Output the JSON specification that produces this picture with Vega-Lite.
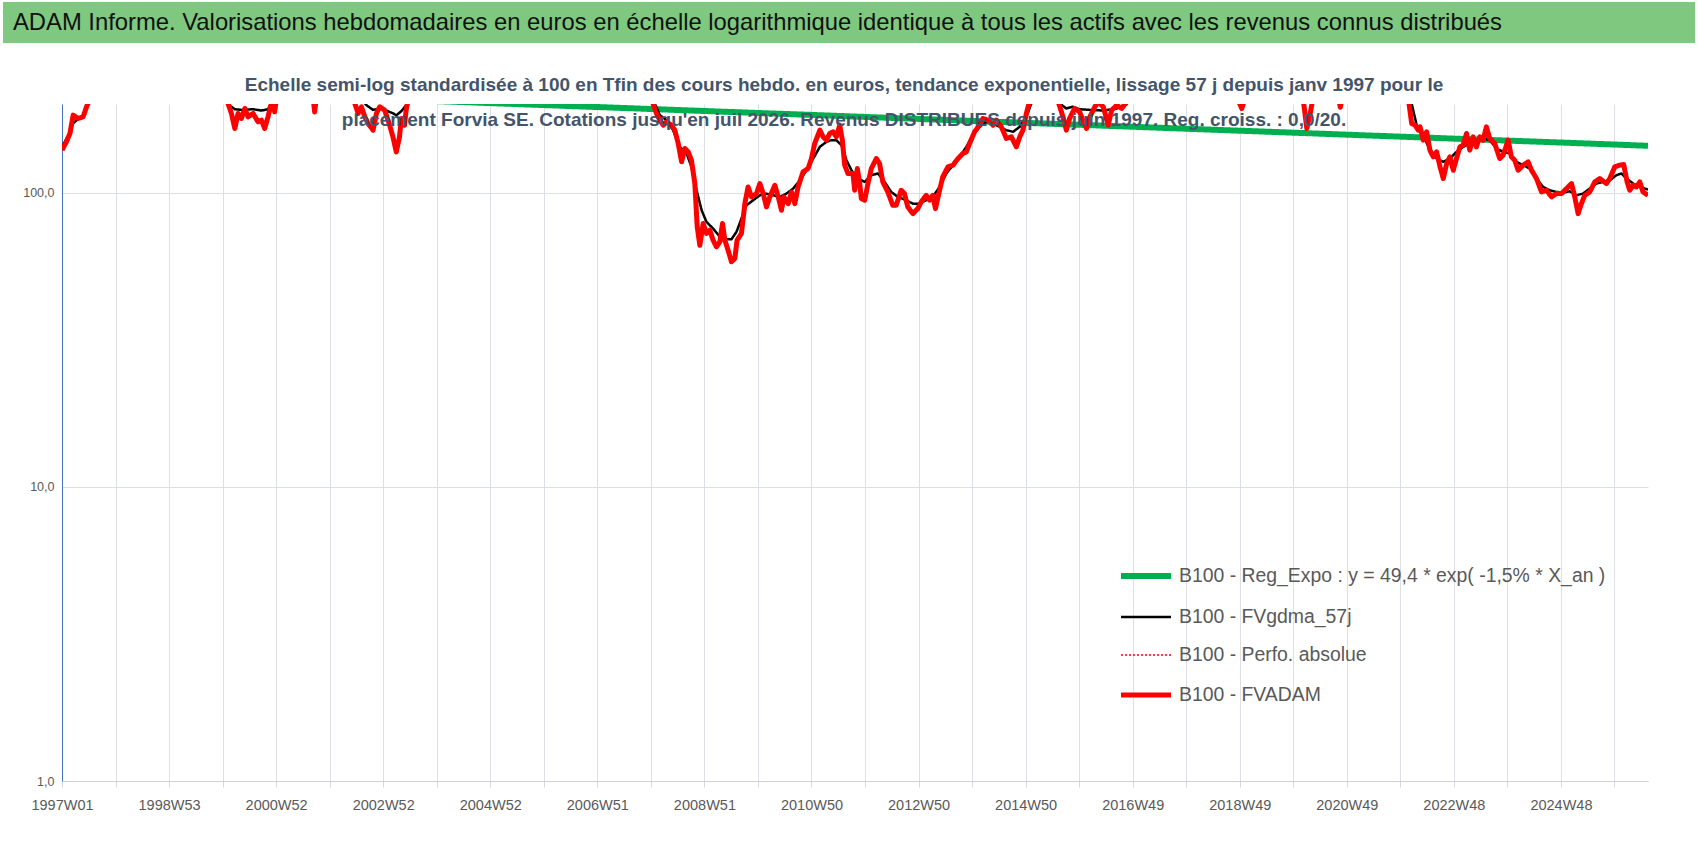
{
  "$schema": "https://vega.github.io/schema/vega-lite/v6.json",
  "background": "white",
  "padding": {"left": 3, "top": 2, "right": 4, "bottom": 4},
  "config": {
    "view": {"stroke": null},
    "font": "Liberation Sans"
  },
  "datasets": {
    "titlebar": [{"t": "ADAM Informe. Valorisations hebdomadaires en euros en échelle logarithmique identique à tous les actifs avec les revenus connus distribués"}],
    "lines": [
      {"s": "Reg_Expo", "d": "1996-12-30", "v": 227.9},
      {"s": "Reg_Expo", "d": "1998-01-01", "v": 224.4},
      {"s": "Reg_Expo", "d": "1999-01-01", "v": 220.9},
      {"s": "Reg_Expo", "d": "2000-01-01", "v": 217.5},
      {"s": "Reg_Expo", "d": "2001-01-01", "v": 214.2},
      {"s": "Reg_Expo", "d": "2002-01-01", "v": 210.9},
      {"s": "Reg_Expo", "d": "2003-01-01", "v": 207.7},
      {"s": "Reg_Expo", "d": "2004-01-01", "v": 204.5},
      {"s": "Reg_Expo", "d": "2005-01-01", "v": 201.3},
      {"s": "Reg_Expo", "d": "2006-01-01", "v": 198.2},
      {"s": "Reg_Expo", "d": "2007-01-01", "v": 195.2},
      {"s": "Reg_Expo", "d": "2008-01-01", "v": 192.2},
      {"s": "Reg_Expo", "d": "2009-01-01", "v": 189.2},
      {"s": "Reg_Expo", "d": "2010-01-01", "v": 186.3},
      {"s": "Reg_Expo", "d": "2011-01-01", "v": 183.5},
      {"s": "Reg_Expo", "d": "2012-01-01", "v": 180.6},
      {"s": "Reg_Expo", "d": "2013-01-01", "v": 177.8},
      {"s": "Reg_Expo", "d": "2014-01-01", "v": 175.1},
      {"s": "Reg_Expo", "d": "2015-01-01", "v": 172.4},
      {"s": "Reg_Expo", "d": "2016-01-01", "v": 169.8},
      {"s": "Reg_Expo", "d": "2017-01-01", "v": 167.2},
      {"s": "Reg_Expo", "d": "2018-01-01", "v": 164.6},
      {"s": "Reg_Expo", "d": "2019-01-01", "v": 162.1},
      {"s": "Reg_Expo", "d": "2020-01-01", "v": 159.6},
      {"s": "Reg_Expo", "d": "2021-01-01", "v": 157.1},
      {"s": "Reg_Expo", "d": "2022-01-01", "v": 154.7},
      {"s": "Reg_Expo", "d": "2023-01-01", "v": 152.3},
      {"s": "Reg_Expo", "d": "2024-01-01", "v": 150.0},
      {"s": "Reg_Expo", "d": "2025-01-01", "v": 147.7},
      {"s": "Reg_Expo", "d": "2026-01-01", "v": 145.4},
      {"s": "Reg_Expo", "d": "2026-07-10", "v": 144.2},

      {"s": "FVgdma_57j", "d": "1996-12-30", "v": 143},
      {"s": "FVgdma_57j", "d": "1997-02-22", "v": 160},
      {"s": "FVgdma_57j", "d": "1997-03-16", "v": 172},
      {"s": "FVgdma_57j", "d": "1997-04-19", "v": 178},
      {"s": "FVgdma_57j", "d": "1997-05-23", "v": 183},
      {"s": "FVgdma_57j", "d": "1997-06-15", "v": 194},
      {"s": "FVgdma_57j", "d": "1997-07-08", "v": 205},
      {"s": "FVgdma_57j", "d": "1997-10-01", "v": 240},
      {"s": "FVgdma_57j", "d": "1998-06-01", "v": 290},
      {"s": "FVgdma_57j", "d": "1999-03-01", "v": 290},
      {"s": "FVgdma_57j", "d": "1999-10-01", "v": 250},
      {"s": "FVgdma_57j", "d": "2000-01-15", "v": 210},
      {"s": "FVgdma_57j", "d": "2000-02-10", "v": 198},
      {"s": "FVgdma_57j", "d": "2000-03-19", "v": 192},
      {"s": "FVgdma_57j", "d": "2000-05-03", "v": 191},
      {"s": "FVgdma_57j", "d": "2000-07-21", "v": 192},
      {"s": "FVgdma_57j", "d": "2000-09-16", "v": 190},
      {"s": "FVgdma_57j", "d": "2000-10-31", "v": 192},
      {"s": "FVgdma_57j", "d": "2000-11-20", "v": 200},
      {"s": "FVgdma_57j", "d": "2000-12-15", "v": 210},
      {"s": "FVgdma_57j", "d": "2001-03-01", "v": 230},
      {"s": "FVgdma_57j", "d": "2001-09-01", "v": 225},
      {"s": "FVgdma_57j", "d": "2002-03-01", "v": 230},
      {"s": "FVgdma_57j", "d": "2002-07-15", "v": 210},
      {"s": "FVgdma_57j", "d": "2002-09-01", "v": 198},
      {"s": "FVgdma_57j", "d": "2002-10-15", "v": 191},
      {"s": "FVgdma_57j", "d": "2002-11-29", "v": 193},
      {"s": "FVgdma_57j", "d": "2003-01-02", "v": 191},
      {"s": "FVgdma_57j", "d": "2003-02-27", "v": 186},
      {"s": "FVgdma_57j", "d": "2003-03-22", "v": 183},
      {"s": "FVgdma_57j", "d": "2003-04-25", "v": 189},
      {"s": "FVgdma_57j", "d": "2003-05-28", "v": 198},
      {"s": "FVgdma_57j", "d": "2003-06-20", "v": 208},
      {"s": "FVgdma_57j", "d": "2003-10-01", "v": 240},
      {"s": "FVgdma_57j", "d": "2004-06-01", "v": 290},
      {"s": "FVgdma_57j", "d": "2005-06-01", "v": 320},
      {"s": "FVgdma_57j", "d": "2006-06-01", "v": 315},
      {"s": "FVgdma_57j", "d": "2007-06-01", "v": 275},
      {"s": "FVgdma_57j", "d": "2007-12-09", "v": 212},
      {"s": "FVgdma_57j", "d": "2008-01-12", "v": 200.8},
      {"s": "FVgdma_57j", "d": "2008-02-16", "v": 183.3},
      {"s": "FVgdma_57j", "d": "2008-04-01", "v": 176.3},
      {"s": "FVgdma_57j", "d": "2008-05-16", "v": 163.0},
      {"s": "FVgdma_57j", "d": "2008-07-01", "v": 143.0},
      {"s": "FVgdma_57j", "d": "2008-08-16", "v": 135.8},
      {"s": "FVgdma_57j", "d": "2008-09-18", "v": 122.3},
      {"s": "FVgdma_57j", "d": "2008-10-23", "v": 101.8},
      {"s": "FVgdma_57j", "d": "2008-11-26", "v": 87.1},
      {"s": "FVgdma_57j", "d": "2008-12-29", "v": 79.5},
      {"s": "FVgdma_57j", "d": "2009-02-12", "v": 75.5},
      {"s": "FVgdma_57j", "d": "2009-03-30", "v": 70.7},
      {"s": "FVgdma_57j", "d": "2009-05-03", "v": 69.4},
      {"s": "FVgdma_57j", "d": "2009-06-17", "v": 69.4},
      {"s": "FVgdma_57j", "d": "2009-07-21", "v": 73.5},
      {"s": "FVgdma_57j", "d": "2009-08-24", "v": 81.6},
      {"s": "FVgdma_57j", "d": "2009-09-27", "v": 90.5},
      {"s": "FVgdma_57j", "d": "2009-11-12", "v": 94.2},
      {"s": "FVgdma_57j", "d": "2009-12-27", "v": 97.9},
      {"s": "FVgdma_57j", "d": "2010-02-10", "v": 99.2},
      {"s": "FVgdma_57j", "d": "2010-03-27", "v": 97.9},
      {"s": "FVgdma_57j", "d": "2010-05-12", "v": 96.7},
      {"s": "FVgdma_57j", "d": "2010-06-26", "v": 99.2},
      {"s": "FVgdma_57j", "d": "2010-08-11", "v": 103.2},
      {"s": "FVgdma_57j", "d": "2010-09-25", "v": 110.1},
      {"s": "FVgdma_57j", "d": "2010-11-09", "v": 119.1},
      {"s": "FVgdma_57j", "d": "2010-12-25", "v": 130.5},
      {"s": "FVgdma_57j", "d": "2011-02-08", "v": 143.0},
      {"s": "FVgdma_57j", "d": "2011-03-25", "v": 148.8},
      {"s": "FVgdma_57j", "d": "2011-04-28", "v": 150.7},
      {"s": "FVgdma_57j", "d": "2011-05-31", "v": 150.7},
      {"s": "FVgdma_57j", "d": "2011-07-05", "v": 144.9},
      {"s": "FVgdma_57j", "d": "2011-08-08", "v": 128.8},
      {"s": "FVgdma_57j", "d": "2011-09-11", "v": 119.1},
      {"s": "FVgdma_57j", "d": "2011-10-26", "v": 111.6},
      {"s": "FVgdma_57j", "d": "2011-12-10", "v": 108.7},
      {"s": "FVgdma_57j", "d": "2012-01-24", "v": 114.5},
      {"s": "FVgdma_57j", "d": "2012-03-09", "v": 116.1},
      {"s": "FVgdma_57j", "d": "2012-04-23", "v": 108.7},
      {"s": "FVgdma_57j", "d": "2012-06-07", "v": 100.5},
      {"s": "FVgdma_57j", "d": "2012-07-22", "v": 96.7},
      {"s": "FVgdma_57j", "d": "2012-09-17", "v": 94.2},
      {"s": "FVgdma_57j", "d": "2012-11-01", "v": 91.7},
      {"s": "FVgdma_57j", "d": "2012-12-16", "v": 91.7},
      {"s": "FVgdma_57j", "d": "2013-01-31", "v": 94.2},
      {"s": "FVgdma_57j", "d": "2013-03-17", "v": 96.7},
      {"s": "FVgdma_57j", "d": "2013-05-02", "v": 104.5},
      {"s": "FVgdma_57j", "d": "2013-06-17", "v": 116.1},
      {"s": "FVgdma_57j", "d": "2013-08-01", "v": 123.9},
      {"s": "FVgdma_57j", "d": "2013-09-16", "v": 132.3},
      {"s": "FVgdma_57j", "d": "2013-10-31", "v": 143.0},
      {"s": "FVgdma_57j", "d": "2013-12-15", "v": 156.7},
      {"s": "FVgdma_57j", "d": "2014-01-29", "v": 167.3},
      {"s": "FVgdma_57j", "d": "2014-03-15", "v": 174.0},
      {"s": "FVgdma_57j", "d": "2014-04-30", "v": 171.7},
      {"s": "FVgdma_57j", "d": "2014-06-14", "v": 167.3},
      {"s": "FVgdma_57j", "d": "2014-07-30", "v": 163.0},
      {"s": "FVgdma_57j", "d": "2014-09-14", "v": 160.9},
      {"s": "FVgdma_57j", "d": "2014-10-29", "v": 167.3},
      {"s": "FVgdma_57j", "d": "2014-12-13", "v": 180.9},
      {"s": "FVgdma_57j", "d": "2015-01-16", "v": 200.8},
      {"s": "FVgdma_57j", "d": "2015-03-15", "v": 215},
      {"s": "FVgdma_57j", "d": "2015-06-01", "v": 212},
      {"s": "FVgdma_57j", "d": "2015-07-28", "v": 200.8},
      {"s": "FVgdma_57j", "d": "2015-09-11", "v": 193.1},
      {"s": "FVgdma_57j", "d": "2015-10-26", "v": 195.7},
      {"s": "FVgdma_57j", "d": "2015-12-10", "v": 192},
      {"s": "FVgdma_57j", "d": "2016-02-18", "v": 191},
      {"s": "FVgdma_57j", "d": "2016-05-19", "v": 190},
      {"s": "FVgdma_57j", "d": "2016-08-18", "v": 193},
      {"s": "FVgdma_57j", "d": "2016-10-25", "v": 200},
      {"s": "FVgdma_57j", "d": "2016-12-15", "v": 212},
      {"s": "FVgdma_57j", "d": "2017-06-01", "v": 240},
      {"s": "FVgdma_57j", "d": "2018-06-01", "v": 240},
      {"s": "FVgdma_57j", "d": "2019-06-01", "v": 235},
      {"s": "FVgdma_57j", "d": "2020-06-01", "v": 235},
      {"s": "FVgdma_57j", "d": "2021-06-01", "v": 255},
      {"s": "FVgdma_57j", "d": "2021-12-01", "v": 225},
      {"s": "FVgdma_57j", "d": "2022-01-20", "v": 212},
      {"s": "FVgdma_57j", "d": "2022-02-14", "v": 200.8},
      {"s": "FVgdma_57j", "d": "2022-03-20", "v": 169.5},
      {"s": "FVgdma_57j", "d": "2022-05-04", "v": 156.7},
      {"s": "FVgdma_57j", "d": "2022-06-18", "v": 139.4},
      {"s": "FVgdma_57j", "d": "2022-08-03", "v": 130.5},
      {"s": "FVgdma_57j", "d": "2022-09-17", "v": 127.2},
      {"s": "FVgdma_57j", "d": "2022-11-01", "v": 130.5},
      {"s": "FVgdma_57j", "d": "2022-12-16", "v": 137.5},
      {"s": "FVgdma_57j", "d": "2023-01-30", "v": 143.0},
      {"s": "FVgdma_57j", "d": "2023-03-16", "v": 146.8},
      {"s": "FVgdma_57j", "d": "2023-04-30", "v": 148.8},
      {"s": "FVgdma_57j", "d": "2023-06-15", "v": 152.7},
      {"s": "FVgdma_57j", "d": "2023-07-30", "v": 150.7},
      {"s": "FVgdma_57j", "d": "2023-09-14", "v": 141.2},
      {"s": "FVgdma_57j", "d": "2023-10-29", "v": 137.5},
      {"s": "FVgdma_57j", "d": "2023-12-13", "v": 135.8},
      {"s": "FVgdma_57j", "d": "2024-01-27", "v": 127.2},
      {"s": "FVgdma_57j", "d": "2024-03-13", "v": 123.9},
      {"s": "FVgdma_57j", "d": "2024-04-27", "v": 120.7},
      {"s": "FVgdma_57j", "d": "2024-06-12", "v": 111.6},
      {"s": "FVgdma_57j", "d": "2024-07-27", "v": 104.5},
      {"s": "FVgdma_57j", "d": "2024-09-10", "v": 101.8},
      {"s": "FVgdma_57j", "d": "2024-10-26", "v": 100.5},
      {"s": "FVgdma_57j", "d": "2024-12-10", "v": 100.0},
      {"s": "FVgdma_57j", "d": "2025-01-24", "v": 101.0},
      {"s": "FVgdma_57j", "d": "2025-03-10", "v": 97.9},
      {"s": "FVgdma_57j", "d": "2025-04-24", "v": 99.2},
      {"s": "FVgdma_57j", "d": "2025-06-09", "v": 103.2},
      {"s": "FVgdma_57j", "d": "2025-07-24", "v": 107.3},
      {"s": "FVgdma_57j", "d": "2025-09-08", "v": 108.7},
      {"s": "FVgdma_57j", "d": "2025-10-23", "v": 110.1},
      {"s": "FVgdma_57j", "d": "2025-12-07", "v": 114.5},
      {"s": "FVgdma_57j", "d": "2026-01-10", "v": 116.1},
      {"s": "FVgdma_57j", "d": "2026-02-14", "v": 111.6},
      {"s": "FVgdma_57j", "d": "2026-03-31", "v": 107.3},
      {"s": "FVgdma_57j", "d": "2026-05-15", "v": 104.5},
      {"s": "FVgdma_57j", "d": "2026-07-10", "v": 102.3},

      {"s": "FVADAM", "d": "1996-12-30", "v": 139.4},
      {"s": "FVADAM", "d": "1997-01-29", "v": 148.8},
      {"s": "FVADAM", "d": "1997-02-22", "v": 158.8},
      {"s": "FVADAM", "d": "1997-03-16", "v": 183.3},
      {"s": "FVADAM", "d": "1997-04-19", "v": 178.6},
      {"s": "FVADAM", "d": "1997-05-23", "v": 180.9},
      {"s": "FVADAM", "d": "1997-06-15", "v": 195.7},
      {"s": "FVADAM", "d": "1997-07-08", "v": 208},
      {"s": "FVADAM", "d": "1997-09-15", "v": 250},
      {"s": "FVADAM", "d": "1998-03-01", "v": 290},
      {"s": "FVADAM", "d": "1998-09-01", "v": 320},
      {"s": "FVADAM", "d": "1999-03-01", "v": 300},
      {"s": "FVADAM", "d": "1999-09-01", "v": 280},
      {"s": "FVADAM", "d": "1999-12-15", "v": 240},
      {"s": "FVADAM", "d": "2000-01-21", "v": 211},
      {"s": "FVADAM", "d": "2000-02-02", "v": 200.8},
      {"s": "FVADAM", "d": "2000-02-25", "v": 185.7},
      {"s": "FVADAM", "d": "2000-03-19", "v": 165.1},
      {"s": "FVADAM", "d": "2000-04-10", "v": 185.7},
      {"s": "FVADAM", "d": "2000-05-03", "v": 178.6},
      {"s": "FVADAM", "d": "2000-05-26", "v": 193.1},
      {"s": "FVADAM", "d": "2000-06-17", "v": 180.9},
      {"s": "FVADAM", "d": "2000-07-21", "v": 185.7},
      {"s": "FVADAM", "d": "2000-08-24", "v": 174.0},
      {"s": "FVADAM", "d": "2000-09-16", "v": 176.3},
      {"s": "FVADAM", "d": "2000-10-08", "v": 165.1},
      {"s": "FVADAM", "d": "2000-10-31", "v": 180.9},
      {"s": "FVADAM", "d": "2000-11-16", "v": 195.7},
      {"s": "FVADAM", "d": "2000-12-04", "v": 208},
      {"s": "FVADAM", "d": "2000-12-15", "v": 188.1},
      {"s": "FVADAM", "d": "2000-12-26", "v": 206},
      {"s": "FVADAM", "d": "2001-03-01", "v": 240},
      {"s": "FVADAM", "d": "2001-06-01", "v": 235},
      {"s": "FVADAM", "d": "2001-09-02", "v": 212},
      {"s": "FVADAM", "d": "2001-09-13", "v": 188},
      {"s": "FVADAM", "d": "2001-09-25", "v": 212},
      {"s": "FVADAM", "d": "2002-01-01", "v": 240},
      {"s": "FVADAM", "d": "2002-04-01", "v": 235},
      {"s": "FVADAM", "d": "2002-06-02", "v": 211},
      {"s": "FVADAM", "d": "2002-06-13", "v": 200.8},
      {"s": "FVADAM", "d": "2002-07-06", "v": 185.7},
      {"s": "FVADAM", "d": "2002-07-28", "v": 195.7},
      {"s": "FVADAM", "d": "2002-08-20", "v": 180.9},
      {"s": "FVADAM", "d": "2002-09-11", "v": 171.7},
      {"s": "FVADAM", "d": "2002-10-15", "v": 163.0},
      {"s": "FVADAM", "d": "2002-11-07", "v": 185.7},
      {"s": "FVADAM", "d": "2002-11-29", "v": 195.7},
      {"s": "FVADAM", "d": "2003-01-02", "v": 190.6},
      {"s": "FVADAM", "d": "2003-02-05", "v": 169.5},
      {"s": "FVADAM", "d": "2003-02-27", "v": 154.7},
      {"s": "FVADAM", "d": "2003-03-22", "v": 137.5},
      {"s": "FVADAM", "d": "2003-04-13", "v": 154.7},
      {"s": "FVADAM", "d": "2003-04-25", "v": 178.6},
      {"s": "FVADAM", "d": "2003-05-17", "v": 169.5},
      {"s": "FVADAM", "d": "2003-05-28", "v": 190.6},
      {"s": "FVADAM", "d": "2003-06-09", "v": 205},
      {"s": "FVADAM", "d": "2003-09-01", "v": 250},
      {"s": "FVADAM", "d": "2004-06-01", "v": 300},
      {"s": "FVADAM", "d": "2005-06-01", "v": 330},
      {"s": "FVADAM", "d": "2006-06-01", "v": 320},
      {"s": "FVADAM", "d": "2007-06-01", "v": 280},
      {"s": "FVADAM", "d": "2007-10-15", "v": 235},
      {"s": "FVADAM", "d": "2008-01-01", "v": 200.8},
      {"s": "FVADAM", "d": "2008-01-24", "v": 185.7},
      {"s": "FVADAM", "d": "2008-02-16", "v": 176.3},
      {"s": "FVADAM", "d": "2008-03-10", "v": 169.5},
      {"s": "FVADAM", "d": "2008-04-01", "v": 174.0},
      {"s": "FVADAM", "d": "2008-05-05", "v": 169.5},
      {"s": "FVADAM", "d": "2008-05-28", "v": 163.0},
      {"s": "FVADAM", "d": "2008-06-20", "v": 146.8},
      {"s": "FVADAM", "d": "2008-07-13", "v": 127.2},
      {"s": "FVADAM", "d": "2008-08-04", "v": 141.2},
      {"s": "FVADAM", "d": "2008-08-27", "v": 137.5},
      {"s": "FVADAM", "d": "2008-09-18", "v": 128.8},
      {"s": "FVADAM", "d": "2008-10-11", "v": 107.3},
      {"s": "FVADAM", "d": "2008-10-27", "v": 76.5},
      {"s": "FVADAM", "d": "2008-11-14", "v": 66.2},
      {"s": "FVADAM", "d": "2008-12-07", "v": 78.5},
      {"s": "FVADAM", "d": "2008-12-29", "v": 72.6},
      {"s": "FVADAM", "d": "2009-01-21", "v": 74.5},
      {"s": "FVADAM", "d": "2009-02-12", "v": 68.9},
      {"s": "FVADAM", "d": "2009-03-07", "v": 65.4},
      {"s": "FVADAM", "d": "2009-03-30", "v": 68.0},
      {"s": "FVADAM", "d": "2009-04-17", "v": 78.5},
      {"s": "FVADAM", "d": "2009-05-03", "v": 68.9},
      {"s": "FVADAM", "d": "2009-05-25", "v": 63.7},
      {"s": "FVADAM", "d": "2009-06-17", "v": 58.2},
      {"s": "FVADAM", "d": "2009-07-10", "v": 59.7},
      {"s": "FVADAM", "d": "2009-07-25", "v": 68.9},
      {"s": "FVADAM", "d": "2009-08-24", "v": 72.6},
      {"s": "FVADAM", "d": "2009-09-16", "v": 91.7},
      {"s": "FVADAM", "d": "2009-10-08", "v": 104.5},
      {"s": "FVADAM", "d": "2009-10-31", "v": 96.7},
      {"s": "FVADAM", "d": "2009-12-04", "v": 99.2},
      {"s": "FVADAM", "d": "2009-12-27", "v": 107.3},
      {"s": "FVADAM", "d": "2010-01-19", "v": 99.2},
      {"s": "FVADAM", "d": "2010-02-10", "v": 89.4},
      {"s": "FVADAM", "d": "2010-03-05", "v": 96.7},
      {"s": "FVADAM", "d": "2010-04-08", "v": 105.9},
      {"s": "FVADAM", "d": "2010-05-01", "v": 96.7},
      {"s": "FVADAM", "d": "2010-05-23", "v": 87.1},
      {"s": "FVADAM", "d": "2010-06-08", "v": 96.7},
      {"s": "FVADAM", "d": "2010-07-08", "v": 91.7},
      {"s": "FVADAM", "d": "2010-07-30", "v": 100.5},
      {"s": "FVADAM", "d": "2010-08-22", "v": 91.7},
      {"s": "FVADAM", "d": "2010-09-13", "v": 104.5},
      {"s": "FVADAM", "d": "2010-10-17", "v": 117.6},
      {"s": "FVADAM", "d": "2010-11-20", "v": 120.7},
      {"s": "FVADAM", "d": "2010-12-13", "v": 130.5},
      {"s": "FVADAM", "d": "2011-01-04", "v": 146.8},
      {"s": "FVADAM", "d": "2011-02-08", "v": 163.0},
      {"s": "FVADAM", "d": "2011-03-02", "v": 154.7},
      {"s": "FVADAM", "d": "2011-03-25", "v": 150.7},
      {"s": "FVADAM", "d": "2011-04-16", "v": 158.8},
      {"s": "FVADAM", "d": "2011-05-09", "v": 160.9},
      {"s": "FVADAM", "d": "2011-05-31", "v": 154.7},
      {"s": "FVADAM", "d": "2011-06-23", "v": 169.5},
      {"s": "FVADAM", "d": "2011-07-11", "v": 150.7},
      {"s": "FVADAM", "d": "2011-07-27", "v": 123.9},
      {"s": "FVADAM", "d": "2011-08-18", "v": 116.1},
      {"s": "FVADAM", "d": "2011-09-21", "v": 116.1},
      {"s": "FVADAM", "d": "2011-10-03", "v": 101.8},
      {"s": "FVADAM", "d": "2011-10-21", "v": 120.7},
      {"s": "FVADAM", "d": "2011-11-06", "v": 107.3},
      {"s": "FVADAM", "d": "2011-11-17", "v": 95.4},
      {"s": "FVADAM", "d": "2011-12-10", "v": 94.2},
      {"s": "FVADAM", "d": "2012-01-01", "v": 107.3},
      {"s": "FVADAM", "d": "2012-01-24", "v": 120.7},
      {"s": "FVADAM", "d": "2012-02-27", "v": 130.5},
      {"s": "FVADAM", "d": "2012-03-20", "v": 125.5},
      {"s": "FVADAM", "d": "2012-04-11", "v": 108.7},
      {"s": "FVADAM", "d": "2012-05-15", "v": 100.5},
      {"s": "FVADAM", "d": "2012-06-18", "v": 90.5},
      {"s": "FVADAM", "d": "2012-07-11", "v": 90.5},
      {"s": "FVADAM", "d": "2012-08-14", "v": 101.8},
      {"s": "FVADAM", "d": "2012-09-05", "v": 99.2},
      {"s": "FVADAM", "d": "2012-09-28", "v": 89.4},
      {"s": "FVADAM", "d": "2012-11-01", "v": 84.8},
      {"s": "FVADAM", "d": "2012-12-05", "v": 88.2},
      {"s": "FVADAM", "d": "2012-12-28", "v": 92.9},
      {"s": "FVADAM", "d": "2013-01-31", "v": 97.9},
      {"s": "FVADAM", "d": "2013-02-23", "v": 94.2},
      {"s": "FVADAM", "d": "2013-03-17", "v": 97.9},
      {"s": "FVADAM", "d": "2013-04-04", "v": 88.2},
      {"s": "FVADAM", "d": "2013-05-02", "v": 101.8},
      {"s": "FVADAM", "d": "2013-05-24", "v": 113.1},
      {"s": "FVADAM", "d": "2013-06-28", "v": 122.3},
      {"s": "FVADAM", "d": "2013-08-01", "v": 123.9},
      {"s": "FVADAM", "d": "2013-09-04", "v": 130.5},
      {"s": "FVADAM", "d": "2013-10-08", "v": 135.8},
      {"s": "FVADAM", "d": "2013-10-31", "v": 137.5},
      {"s": "FVADAM", "d": "2013-11-22", "v": 146.8},
      {"s": "FVADAM", "d": "2013-12-26", "v": 160.9},
      {"s": "FVADAM", "d": "2014-01-29", "v": 169.5},
      {"s": "FVADAM", "d": "2014-02-21", "v": 178.6},
      {"s": "FVADAM", "d": "2014-03-27", "v": 176.3},
      {"s": "FVADAM", "d": "2014-04-30", "v": 169.5},
      {"s": "FVADAM", "d": "2014-05-23", "v": 176.3},
      {"s": "FVADAM", "d": "2014-06-26", "v": 167.3},
      {"s": "FVADAM", "d": "2014-07-30", "v": 152.7},
      {"s": "FVADAM", "d": "2014-09-02", "v": 154.7},
      {"s": "FVADAM", "d": "2014-10-06", "v": 143.0},
      {"s": "FVADAM", "d": "2014-10-29", "v": 154.7},
      {"s": "FVADAM", "d": "2014-11-20", "v": 163.0},
      {"s": "FVADAM", "d": "2014-12-13", "v": 185.7},
      {"s": "FVADAM", "d": "2015-01-05", "v": 205},
      {"s": "FVADAM", "d": "2015-03-15", "v": 240},
      {"s": "FVADAM", "d": "2015-06-01", "v": 230},
      {"s": "FVADAM", "d": "2015-07-16", "v": 205},
      {"s": "FVADAM", "d": "2015-08-19", "v": 180.9},
      {"s": "FVADAM", "d": "2015-09-11", "v": 163.0},
      {"s": "FVADAM", "d": "2015-10-03", "v": 178.6},
      {"s": "FVADAM", "d": "2015-11-06", "v": 193.1},
      {"s": "FVADAM", "d": "2015-12-10", "v": 188},
      {"s": "FVADAM", "d": "2016-01-26", "v": 165.1},
      {"s": "FVADAM", "d": "2016-02-18", "v": 180.9},
      {"s": "FVADAM", "d": "2016-03-23", "v": 195.7},
      {"s": "FVADAM", "d": "2016-04-15", "v": 203},
      {"s": "FVADAM", "d": "2016-05-19", "v": 195.7},
      {"s": "FVADAM", "d": "2016-06-22", "v": 169.5},
      {"s": "FVADAM", "d": "2016-07-15", "v": 190.6},
      {"s": "FVADAM", "d": "2016-08-18", "v": 198},
      {"s": "FVADAM", "d": "2016-09-21", "v": 193.1},
      {"s": "FVADAM", "d": "2016-10-25", "v": 203},
      {"s": "FVADAM", "d": "2017-01-15", "v": 240},
      {"s": "FVADAM", "d": "2017-07-01", "v": 260},
      {"s": "FVADAM", "d": "2018-03-01", "v": 250},
      {"s": "FVADAM", "d": "2018-09-01", "v": 230},
      {"s": "FVADAM", "d": "2018-11-25", "v": 205},
      {"s": "FVADAM", "d": "2018-12-17", "v": 193},
      {"s": "FVADAM", "d": "2019-01-02", "v": 205},
      {"s": "FVADAM", "d": "2019-06-01", "v": 240},
      {"s": "FVADAM", "d": "2019-12-01", "v": 235},
      {"s": "FVADAM", "d": "2020-02-09", "v": 205},
      {"s": "FVADAM", "d": "2020-03-03", "v": 165.1},
      {"s": "FVADAM", "d": "2020-03-26", "v": 185.7},
      {"s": "FVADAM", "d": "2020-04-11", "v": 205},
      {"s": "FVADAM", "d": "2020-08-01", "v": 230},
      {"s": "FVADAM", "d": "2020-10-08", "v": 206},
      {"s": "FVADAM", "d": "2020-10-17", "v": 195},
      {"s": "FVADAM", "d": "2020-10-26", "v": 206},
      {"s": "FVADAM", "d": "2021-03-01", "v": 250},
      {"s": "FVADAM", "d": "2021-07-01", "v": 270},
      {"s": "FVADAM", "d": "2021-11-01", "v": 240},
      {"s": "FVADAM", "d": "2022-01-23", "v": 208},
      {"s": "FVADAM", "d": "2022-02-14", "v": 171.7},
      {"s": "FVADAM", "d": "2022-03-09", "v": 169.5},
      {"s": "FVADAM", "d": "2022-03-31", "v": 163.0},
      {"s": "FVADAM", "d": "2022-04-12", "v": 167.3},
      {"s": "FVADAM", "d": "2022-05-04", "v": 150.7},
      {"s": "FVADAM", "d": "2022-05-27", "v": 160.9},
      {"s": "FVADAM", "d": "2022-06-18", "v": 139.4},
      {"s": "FVADAM", "d": "2022-07-11", "v": 132.3},
      {"s": "FVADAM", "d": "2022-08-03", "v": 137.5},
      {"s": "FVADAM", "d": "2022-08-26", "v": 122.3},
      {"s": "FVADAM", "d": "2022-09-17", "v": 111.6},
      {"s": "FVADAM", "d": "2022-10-10", "v": 125.5},
      {"s": "FVADAM", "d": "2022-11-01", "v": 132.3},
      {"s": "FVADAM", "d": "2022-11-24", "v": 119.1},
      {"s": "FVADAM", "d": "2022-12-16", "v": 130.5},
      {"s": "FVADAM", "d": "2023-01-08", "v": 143.0},
      {"s": "FVADAM", "d": "2023-01-30", "v": 144.9},
      {"s": "FVADAM", "d": "2023-02-22", "v": 158.8},
      {"s": "FVADAM", "d": "2023-03-16", "v": 139.4},
      {"s": "FVADAM", "d": "2023-04-08", "v": 154.7},
      {"s": "FVADAM", "d": "2023-04-30", "v": 143.0},
      {"s": "FVADAM", "d": "2023-05-23", "v": 154.7},
      {"s": "FVADAM", "d": "2023-06-15", "v": 150.7},
      {"s": "FVADAM", "d": "2023-07-07", "v": 167.3},
      {"s": "FVADAM", "d": "2023-07-30", "v": 152.7},
      {"s": "FVADAM", "d": "2023-09-02", "v": 146.8},
      {"s": "FVADAM", "d": "2023-10-06", "v": 130.5},
      {"s": "FVADAM", "d": "2023-10-29", "v": 134.0},
      {"s": "FVADAM", "d": "2023-12-02", "v": 150.7},
      {"s": "FVADAM", "d": "2023-12-24", "v": 132.3},
      {"s": "FVADAM", "d": "2024-01-16", "v": 128.8},
      {"s": "FVADAM", "d": "2024-02-08", "v": 119.1},
      {"s": "FVADAM", "d": "2024-03-13", "v": 123.9},
      {"s": "FVADAM", "d": "2024-04-16", "v": 127.2},
      {"s": "FVADAM", "d": "2024-05-09", "v": 119.1},
      {"s": "FVADAM", "d": "2024-06-12", "v": 111.6},
      {"s": "FVADAM", "d": "2024-07-16", "v": 100.5},
      {"s": "FVADAM", "d": "2024-08-19", "v": 101.8},
      {"s": "FVADAM", "d": "2024-09-22", "v": 96.7},
      {"s": "FVADAM", "d": "2024-10-26", "v": 99.2},
      {"s": "FVADAM", "d": "2024-11-29", "v": 99.2},
      {"s": "FVADAM", "d": "2025-01-02", "v": 103.2},
      {"s": "FVADAM", "d": "2025-02-05", "v": 107.3},
      {"s": "FVADAM", "d": "2025-02-27", "v": 96.7},
      {"s": "FVADAM", "d": "2025-03-22", "v": 84.8},
      {"s": "FVADAM", "d": "2025-04-13", "v": 91.7},
      {"s": "FVADAM", "d": "2025-05-06", "v": 97.9},
      {"s": "FVADAM", "d": "2025-06-09", "v": 100.5},
      {"s": "FVADAM", "d": "2025-07-13", "v": 108.7},
      {"s": "FVADAM", "d": "2025-08-16", "v": 111.6},
      {"s": "FVADAM", "d": "2025-09-30", "v": 107.3},
      {"s": "FVADAM", "d": "2025-10-23", "v": 111.6},
      {"s": "FVADAM", "d": "2025-11-26", "v": 122.3},
      {"s": "FVADAM", "d": "2025-12-30", "v": 123.9},
      {"s": "FVADAM", "d": "2026-01-26", "v": 124.5},
      {"s": "FVADAM", "d": "2026-02-18", "v": 108.7},
      {"s": "FVADAM", "d": "2026-03-08", "v": 101.8},
      {"s": "FVADAM", "d": "2026-03-31", "v": 105.9},
      {"s": "FVADAM", "d": "2026-04-22", "v": 104.5},
      {"s": "FVADAM", "d": "2026-05-15", "v": 108.7},
      {"s": "FVADAM", "d": "2026-06-06", "v": 100.5},
      {"s": "FVADAM", "d": "2026-07-10", "v": 97.9}
    ]
  },
  "vconcat": [
    {
      "width": 1633,
      "height": 41,
      "data": {"name": "titlebar"},
      "encoding": {
        "x": {"datum": 0, "type": "quantitative", "scale": {"domain": [0, 1], "range": [-59, 1633]}, "axis": null},
        "y": {"datum": 0.5, "type": "quantitative", "scale": {"domain": [0, 1]}, "axis": null}
      },
      "layer": [
        {
          "mark": {"type": "rect", "color": "#7FC87F", "clip": false},
          "encoding": {
            "y": {"datum": 0, "type": "quantitative"},
            "y2": {"datum": 1},
            "x2": {"datum": 1}
          }
        },
        {
          "mark": {"type": "text", "align": "left", "baseline": "middle", "dx": 10, "font": "Liberation Sans", "fontSize": 23.8, "color": "#111111"},
          "encoding": {"text": {"field": "t"}}
        }
      ]
    },
    {
      "width": 1586,
      "height": 677,
      "title": {
        "text": [
          "Echelle semi-log standardisée à 100 en Tfin des cours hebdo. en euros, tendance exponentielle, lissage 57 j depuis janv 1997 pour le",
          "placement Forvia SE. Cotations jusqu'en juil 2026. Revenus DISTRIBUES depuis juin 1997. Reg. croiss. : 0,0/20."
        ],
        "anchor": "middle",
        "font": "Liberation Sans",
        "fontSize": 19,
        "fontWeight": "bold",
        "color": "#44546A",
        "lineHeight": 35,
        "offset": -26,
        "dx": -11
      },
      "data": {"name": "lines"},
      "encoding": {
        "x": {
          "field": "d",
          "type": "temporal",
          "scale": {"domain": [{"year": 1996, "month": 12, "date": 30, "utc": true}, {"year": 2026, "month": 7, "date": 10, "utc": true}], "nice": false},
          "axis": {
            "title": null,
            "values": [
              {"year": 1996, "month": 12, "date": 30, "utc": true},
              {"year": 1997, "month": 12, "date": 29, "utc": true},
              {"year": 1998, "month": 12, "date": 28, "utc": true},
              {"year": 1999, "month": 12, "date": 27, "utc": true},
              {"year": 2000, "month": 12, "date": 25, "utc": true},
              {"year": 2001, "month": 12, "date": 24, "utc": true},
              {"year": 2002, "month": 12, "date": 23, "utc": true},
              {"year": 2003, "month": 12, "date": 22, "utc": true},
              {"year": 2004, "month": 12, "date": 20, "utc": true},
              {"year": 2005, "month": 12, "date": 19, "utc": true},
              {"year": 2006, "month": 12, "date": 18, "utc": true},
              {"year": 2007, "month": 12, "date": 17, "utc": true},
              {"year": 2008, "month": 12, "date": 15, "utc": true},
              {"year": 2009, "month": 12, "date": 14, "utc": true},
              {"year": 2010, "month": 12, "date": 13, "utc": true},
              {"year": 2011, "month": 12, "date": 12, "utc": true},
              {"year": 2012, "month": 12, "date": 10, "utc": true},
              {"year": 2013, "month": 12, "date": 9, "utc": true},
              {"year": 2014, "month": 12, "date": 8, "utc": true},
              {"year": 2015, "month": 12, "date": 7, "utc": true},
              {"year": 2016, "month": 12, "date": 5, "utc": true},
              {"year": 2017, "month": 12, "date": 4, "utc": true},
              {"year": 2018, "month": 12, "date": 3, "utc": true},
              {"year": 2019, "month": 12, "date": 2, "utc": true},
              {"year": 2020, "month": 11, "date": 30, "utc": true},
              {"year": 2021, "month": 11, "date": 29, "utc": true},
              {"year": 2022, "month": 11, "date": 28, "utc": true},
              {"year": 2023, "month": 11, "date": 27, "utc": true},
              {"year": 2024, "month": 11, "date": 25, "utc": true},
              {"year": 2025, "month": 11, "date": 24, "utc": true}
            ],
            "labelExpr": "round((datum.value - utc(1996, 11, 30)) / 604800000) % 104 == 0 ? utcFormat(datum.value, '%GW%V') : ''",
            "grid": true,
            "gridColor": "#DCDFE6",
            "domainColor": "#D0D0D0",
            "tickColor": "#D6D9DF",
            "tickSize": 6,
            "labelFont": "Liberation Sans",
            "labelFontSize": 14.5,
            "labelColor": "#595959",
            "labelPadding": 11,
            "labelOverlap": false,
            "labelFlush": false
          }
        },
        "y": {
          "field": "v",
          "type": "quantitative",
          "scale": {"type": "log", "domain": [1, 200], "nice": false},
          "axis": {
            "title": null,
            "values": [1, 10, 100],
            "labelExpr": "replace(format(datum.value, '.1f'), '.', ',')",
            "grid": true,
            "gridColor": "#DCDFE6",
            "domainColor": "#4472C4",
            "ticks": false,
            "labelFont": "Liberation Sans",
            "labelFontSize": 12.5,
            "labelColor": "#595959",
            "labelPadding": 8,
            "minExtent": 59,
            "maxExtent": 59
          }
        },
        "color": {
          "field": "s",
          "type": "nominal",
          "scale": {"domain": ["Reg_Expo", "FVgdma_57j", "Perfo", "FVADAM"], "range": ["#00B050", "#000000", "#FF0000", "#FF0000"]},
          "legend": {
            "title": null, "orient": "none", "legendX": 1056, "legendY": 546,
            "symbolType": "stroke", "symbolSize": 2500, "rowPadding": 2.5,
            "labelFont": "Liberation Sans", "labelFontSize": 19.4, "labelColor": "#595959", "labelOffset": 5, "labelLimit": 0,
            "labelExpr": "datum.label == 'Reg_Expo' ? 'B100 - Reg_Expo : y = 49,4 * exp( -1,5% *  X_an )' : datum.label == 'Perfo' ? 'B100 - Perfo. absolue' : 'B100 - ' + datum.label"
          }
        },
        "strokeDash": {
          "field": "s",
          "type": "nominal",
          "scale": {"domain": ["Reg_Expo", "FVgdma_57j", "Perfo", "FVADAM"], "range": [[1, 0], [1, 0], [2, 2], [1, 0]]},
          "legend": {
            "title": null, "orient": "none", "legendX": 1056, "legendY": 546,
            "symbolType": "stroke", "symbolSize": 2500, "rowPadding": 2.5,
            "labelFont": "Liberation Sans", "labelFontSize": 19.4, "labelColor": "#595959", "labelOffset": 5, "labelLimit": 0,
            "labelExpr": "datum.label == 'Reg_Expo' ? 'B100 - Reg_Expo : y = 49,4 * exp( -1,5% *  X_an )' : datum.label == 'Perfo' ? 'B100 - Perfo. absolue' : 'B100 - ' + datum.label"
          }
        },
        "strokeWidth": {
          "field": "s",
          "type": "nominal",
          "scale": {"type": "ordinal", "domain": ["Reg_Expo", "FVgdma_57j", "Perfo", "FVADAM"], "range": [6, 2.5, 1.5, 5]},
          "legend": {
            "title": null, "orient": "none", "legendX": 1056, "legendY": 546,
            "symbolType": "stroke", "symbolSize": 2500, "rowPadding": 2.5,
            "labelFont": "Liberation Sans", "labelFontSize": 19.4, "labelColor": "#595959", "labelOffset": 5, "labelLimit": 0,
            "labelExpr": "datum.label == 'Reg_Expo' ? 'B100 - Reg_Expo : y = 49,4 * exp( -1,5% *  X_an )' : datum.label == 'Perfo' ? 'B100 - Perfo. absolue' : 'B100 - ' + datum.label"
          }
        }
      },
      "layer": [
        {"transform": [{"filter": "datum.s == 'Reg_Expo'"}], "mark": {"type": "line", "clip": true, "strokeJoin": "round"}},
        {"transform": [{"filter": "datum.s == 'FVgdma_57j'"}], "mark": {"type": "line", "clip": true, "strokeJoin": "round"}},
        {"transform": [{"filter": "datum.s == 'FVADAM'"}], "mark": {"type": "line", "clip": true, "strokeJoin": "round"}}
      ]
    }
  ],
  "spacing": 33
}
